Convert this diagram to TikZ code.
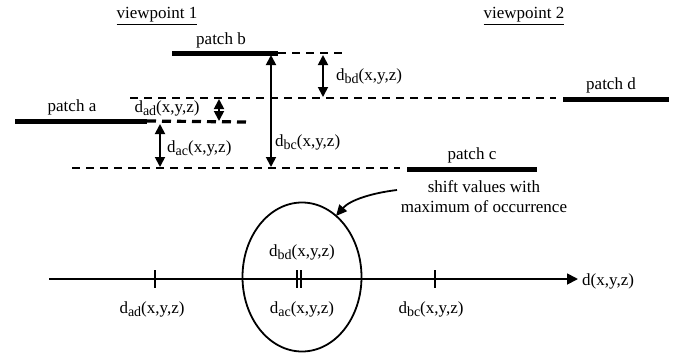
\documentclass[tikz,border=0pt]{standalone}
\usepackage{fontspec}
\setmainfont{Liberation Serif}
\usetikzlibrary{arrows.meta,shapes.geometric}
\newcommand{\dsub}[1]{d\raisebox{-0.45ex}{\fontsize{14}{14}\selectfont #1}(x,y,z)}
\begin{document}
\begin{tikzpicture}[x=1pt,y=-1pt,
  lbl/.style={inner sep=0pt,font=\fontsize{17}{20}\selectfont},
  patchline/.style={line width=5pt},
  dashline/.style={line width=1.6pt,dash pattern=on 8pt off 6pt},
  thickdash/.style={line width=3.2pt,dash pattern=on 9pt off 6pt},
  dimarrow/.style={line width=1.8pt,{Triangle[length=10pt,width=10pt]}-{Triangle[length=10pt,width=10pt]}},
  tick/.style={line width=1.8pt}]
\useasboundingbox (0,0) rectangle (675,354);
% titles
\node[lbl] (vp1) at (157,16) {\underline{viewpoint 1}};
\node[lbl] (vp2) at (524,16) {\underline{viewpoint 2}};
% patch b
\coordinate (b1) at (172,53); \coordinate (b2) at (278,53); \coordinate (b3) at (343,53);
\draw[patchline] (b1) -- (b2);
\node[lbl] (pb) at (221,40) {patch b};
\draw[dashline] (b2) -- (b3);
% patch d level
\coordinate (d0) at (130,98); \coordinate (d1) at (556,98);
\coordinate (d2) at (563,99); \coordinate (d3) at (669,99);
\draw[dashline] (d0) -- (d1);
\draw[patchline] (d2) -- (d3);
\node[lbl] (pd) at (611,85) {patch d};
% patch a
\coordinate (a1) at (15,121); \coordinate (a2) at (147,121); \coordinate (a3) at (246,122);
\draw[patchline] (a1) -- (a2);
\draw[thickdash] (a2) -- (a3);
\node[lbl] (pa) at (72,107) {patch a};
% patch c level
\coordinate (c0) at (72,168); \coordinate (c1) at (400,168);
\coordinate (c2) at (407,169); \coordinate (c3) at (537,169);
\draw[dashline] (c0) -- (c1);
\draw[patchline] (c2) -- (c3);
\node[lbl] (pc) at (472,155) {patch c};
% dimension arrows
\coordinate (bdT) at (323,55); \coordinate (bdB) at (323,97);
\draw[dimarrow] (bdT) -- (bdB);
\node[lbl,anchor=west] (lbd) at (336,76) {\dsub{bd}};
\coordinate (adT) at (219,99); \coordinate (adB) at (219,121);
\draw[dimarrow] (adT) -- (adB);
\node[lbl] (lad) at (167,108) {\dsub{ad}};
\coordinate (acT) at (160,124); \coordinate (acB) at (160,167);
\draw[dimarrow] (acT) -- (acB);
\node[lbl,anchor=west] (lac) at (167,148) {\dsub{ac}};
\coordinate (bcT) at (271,55); \coordinate (bcB) at (271,167);
\draw[dimarrow] (bcT) -- (bcB);
\node[lbl,anchor=west] (lbc) at (275,142) {\dsub{bc}};
% note
\node[lbl,align=center] (note) at (484,197) {shift values with\\maximum of occurrence};
\coordinate (ns) at (397,190); \coordinate (ne) at (336,216);
\draw[line width=1.8pt,-{Triangle[length=11pt,width=10pt]}] (ns) .. controls (372,193) and (350,200) .. (ne);
% ellipse
\node[draw,line width=1.8pt,ellipse,minimum width=119pt,minimum height=149pt,inner sep=0pt] (ell) at (302,277) {};
% axis
\coordinate (ax0) at (49,279); \coordinate (ax1) at (578,279);
\draw[line width=1.8pt,-{Triangle[length=11pt,width=11pt]}] (ax0) -- (ax1);
\node[lbl,anchor=west] (dl) at (582,281) {d(x,y,z)};
\foreach \t/\xx in {t1/155,t2/297,t3/301,t4/435}{
  \coordinate (\t a) at (\xx,270); \coordinate (\t b) at (\xx,288);
  \draw[tick] (\t a) -- (\t b);
}
\node[lbl] (tad) at (152,309) {\dsub{ad}};
\node[lbl] (tac) at (302,309) {\dsub{ac}};
\node[lbl] (tbc) at (431,309) {\dsub{bc}};
\node[lbl] (tbd) at (302,252) {\dsub{bd}};
\end{tikzpicture}
\end{document}
